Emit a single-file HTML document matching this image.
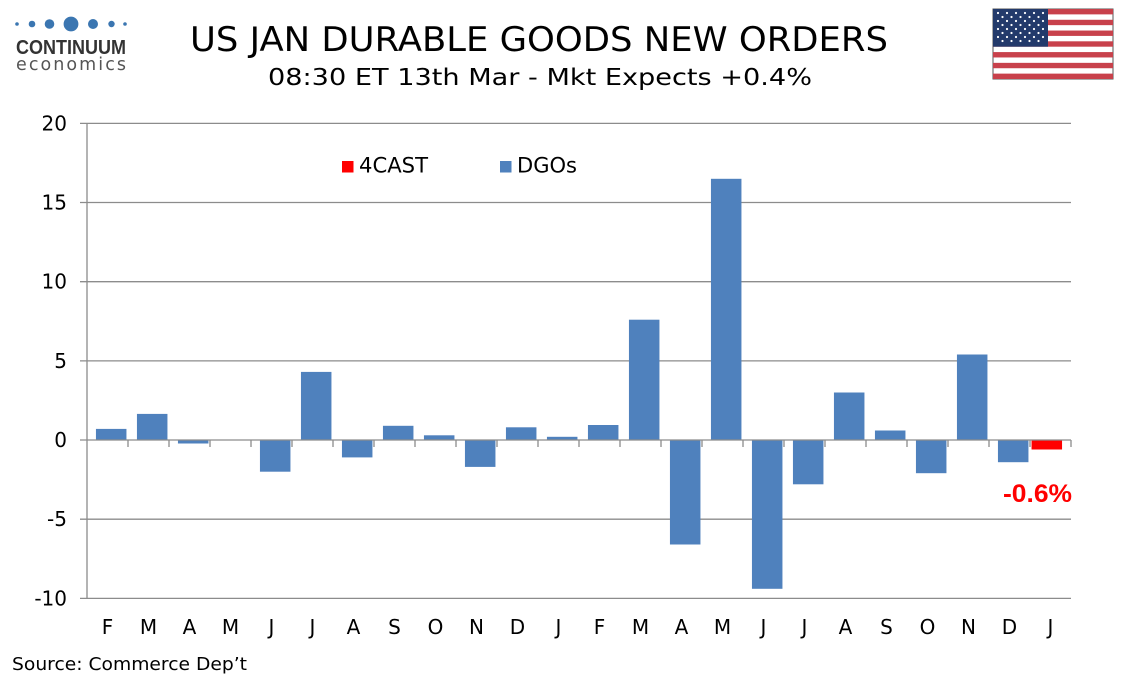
<!DOCTYPE html>
<html><head><meta charset="utf-8"><style>
html,body{margin:0;padding:0;background:#fff;}
svg{display:block;}
</style></head><body>
<svg width="1134" height="680" viewBox="0 0 1134 680" xmlns="http://www.w3.org/2000/svg">
<rect width="1134" height="680" fill="#fff"/>
<!-- logo -->
<g fill="#3b76b1">
<circle cx="17" cy="24" r="1.8"/>
<circle cx="32" cy="24" r="3.3"/>
<circle cx="49.5" cy="24" r="4.8"/>
<circle cx="71" cy="24" r="7.4"/>
<circle cx="93" cy="24" r="5"/>
<circle cx="111.5" cy="24" r="3.2"/>
<circle cx="125" cy="24" r="1.8"/>
</g>
<text x="16" y="54" font-family="Liberation Sans, sans-serif" font-weight="bold" font-size="20.5" fill="#333" textLength="110" lengthAdjust="spacingAndGlyphs">CONTINUUM</text>
<text x="16" y="70" font-family="DejaVu Sans, sans-serif" font-size="17.5" fill="#555" textLength="110" lengthAdjust="spacing">economics</text>
<!-- title -->
<text x="190" y="51" font-family="DejaVu Sans, sans-serif" font-size="34" fill="#000" textLength="698" lengthAdjust="spacingAndGlyphs">US JAN DURABLE GOODS NEW ORDERS</text>
<text x="268" y="85" font-family="DejaVu Sans, sans-serif" font-size="23" fill="#000" textLength="544" lengthAdjust="spacingAndGlyphs">08:30 ET 13th Mar - Mkt Expects +0.4%</text>
<!-- flag -->
<g>
<rect x="993" y="9" width="120" height="70" fill="#fff" stroke="#555" stroke-width="1"/>
<g fill="#c8414b">
<rect x="993" y="9" width="120" height="5.38"/>
<rect x="993" y="19.77" width="120" height="5.38"/>
<rect x="993" y="30.54" width="120" height="5.38"/>
<rect x="993" y="41.31" width="120" height="5.38"/>
<rect x="993" y="52.08" width="120" height="5.38"/>
<rect x="993" y="62.85" width="120" height="5.38"/>
<rect x="993" y="73.62" width="120" height="5.38"/>
</g>
<rect x="993" y="9" width="55" height="37.7" fill="#233a6b"/>
<g fill="#fff">
<circle cx="998" cy="13" r="1.1"/><circle cx="1007" cy="13" r="1.1"/><circle cx="1016" cy="13" r="1.1"/><circle cx="1025" cy="13" r="1.1"/><circle cx="1034" cy="13" r="1.1"/><circle cx="1043" cy="13" r="1.1"/>
<circle cx="1002.5" cy="17" r="1.1"/><circle cx="1011.5" cy="17" r="1.1"/><circle cx="1020.5" cy="17" r="1.1"/><circle cx="1029.5" cy="17" r="1.1"/><circle cx="1038.5" cy="17" r="1.1"/>
<circle cx="998" cy="21" r="1.1"/><circle cx="1007" cy="21" r="1.1"/><circle cx="1016" cy="21" r="1.1"/><circle cx="1025" cy="21" r="1.1"/><circle cx="1034" cy="21" r="1.1"/><circle cx="1043" cy="21" r="1.1"/>
<circle cx="1002.5" cy="25" r="1.1"/><circle cx="1011.5" cy="25" r="1.1"/><circle cx="1020.5" cy="25" r="1.1"/><circle cx="1029.5" cy="25" r="1.1"/><circle cx="1038.5" cy="25" r="1.1"/>
<circle cx="998" cy="29" r="1.1"/><circle cx="1007" cy="29" r="1.1"/><circle cx="1016" cy="29" r="1.1"/><circle cx="1025" cy="29" r="1.1"/><circle cx="1034" cy="29" r="1.1"/><circle cx="1043" cy="29" r="1.1"/>
<circle cx="1002.5" cy="33" r="1.1"/><circle cx="1011.5" cy="33" r="1.1"/><circle cx="1020.5" cy="33" r="1.1"/><circle cx="1029.5" cy="33" r="1.1"/><circle cx="1038.5" cy="33" r="1.1"/>
<circle cx="998" cy="37" r="1.1"/><circle cx="1007" cy="37" r="1.1"/><circle cx="1016" cy="37" r="1.1"/><circle cx="1025" cy="37" r="1.1"/><circle cx="1034" cy="37" r="1.1"/><circle cx="1043" cy="37" r="1.1"/>
<circle cx="1002.5" cy="41" r="1.1"/><circle cx="1011.5" cy="41" r="1.1"/><circle cx="1020.5" cy="41" r="1.1"/><circle cx="1029.5" cy="41" r="1.1"/><circle cx="1038.5" cy="41" r="1.1"/>
</g>
</g>
<!-- gridlines -->
<g stroke="#8c8c8c" stroke-width="1.3">
<line x1="80" y1="123.4" x2="1071" y2="123.4"/>
<line x1="80" y1="202.5" x2="1071" y2="202.5"/>
<line x1="80" y1="281.7" x2="1071" y2="281.7"/>
<line x1="80" y1="360.9" x2="1071" y2="360.9"/>
<line x1="80" y1="519.2" x2="1071" y2="519.2"/>
<line x1="80" y1="598.4" x2="1071" y2="598.4"/>
</g>
<!-- y labels -->
<g font-family="DejaVu Sans, sans-serif" font-size="20" fill="#000" text-anchor="end">
<text x="67" y="130.5">20</text>
<text x="67" y="209.5">15</text>
<text x="67" y="288.7">10</text>
<text x="67" y="367.9">5</text>
<text x="67" y="447">0</text>
<text x="67" y="526.2">-5</text>
<text x="67" y="605.4">-10</text>
</g>
<!-- bars -->
<g fill="#4f81bd">
<rect x="95.95" y="428.9" width="30.5" height="11.1"/>
<rect x="136.95" y="413.9" width="30.5" height="26.1"/>
<rect x="177.95" y="440" width="30.5" height="3.5"/>
<rect x="259.95" y="440" width="30.5" height="31.7"/>
<rect x="300.95" y="371.9" width="30.5" height="68.1"/>
<rect x="341.95" y="440" width="30.5" height="17.4"/>
<rect x="382.95" y="425.8" width="30.5" height="14.2"/>
<rect x="423.95" y="435.3" width="30.5" height="4.7"/>
<rect x="464.95" y="440" width="30.5" height="26.9"/>
<rect x="505.95" y="427.3" width="30.5" height="12.7"/>
<rect x="546.95" y="436.8" width="30.5" height="3.2"/>
<rect x="587.95" y="425" width="30.5" height="15"/>
<rect x="628.95" y="319.7" width="30.5" height="120.3"/>
<rect x="669.95" y="440" width="30.5" height="104.5"/>
<rect x="710.95" y="178.8" width="30.5" height="261.2"/>
<rect x="751.95" y="440" width="30.5" height="148.8"/>
<rect x="792.95" y="440" width="30.5" height="44.3"/>
<rect x="833.95" y="392.5" width="30.5" height="47.5"/>
<rect x="874.95" y="430.5" width="30.5" height="9.5"/>
<rect x="915.95" y="440" width="30.5" height="33.2"/>
<rect x="956.95" y="354.5" width="30.5" height="85.5"/>
<rect x="997.95" y="440" width="30.5" height="22.2"/>
</g>
<rect x="1031.55" y="440" width="30.5" height="9.5" fill="#ff0000"/>
<!-- axes -->
<g stroke="#8c8c8c" stroke-width="1.3">
<line x1="87" y1="123.4" x2="87" y2="598.4"/>
<line x1="80" y1="440" x2="1071" y2="440"/>
<line x1="128" y1="440" x2="128" y2="447"/><line x1="169" y1="440" x2="169" y2="447"/><line x1="210" y1="440" x2="210" y2="447"/><line x1="251" y1="440" x2="251" y2="447"/><line x1="292" y1="440" x2="292" y2="447"/><line x1="333" y1="440" x2="333" y2="447"/><line x1="374" y1="440" x2="374" y2="447"/><line x1="415" y1="440" x2="415" y2="447"/><line x1="456" y1="440" x2="456" y2="447"/><line x1="497" y1="440" x2="497" y2="447"/><line x1="538" y1="440" x2="538" y2="447"/><line x1="579" y1="440" x2="579" y2="447"/><line x1="620" y1="440" x2="620" y2="447"/><line x1="661" y1="440" x2="661" y2="447"/><line x1="702" y1="440" x2="702" y2="447"/><line x1="743" y1="440" x2="743" y2="447"/><line x1="784" y1="440" x2="784" y2="447"/><line x1="825" y1="440" x2="825" y2="447"/><line x1="866" y1="440" x2="866" y2="447"/><line x1="907" y1="440" x2="907" y2="447"/><line x1="948" y1="440" x2="948" y2="447"/><line x1="989" y1="440" x2="989" y2="447"/><line x1="1030" y1="440" x2="1030" y2="447"/><line x1="1071" y1="440" x2="1071" y2="447"/>
</g>
<!-- x labels -->
<g font-family="DejaVu Sans, sans-serif" font-size="20" fill="#000" text-anchor="middle">
<text x="107.5" y="634">F</text><text x="148.5" y="634">M</text><text x="189.5" y="634">A</text><text x="230.5" y="634">M</text><text x="271.5" y="634">J</text><text x="312.5" y="634">J</text><text x="353.5" y="634">A</text><text x="394.5" y="634">S</text><text x="435.5" y="634">O</text><text x="476.5" y="634">N</text><text x="517.5" y="634">D</text><text x="558.5" y="634">J</text><text x="599.5" y="634">F</text><text x="640.5" y="634">M</text><text x="681.5" y="634">A</text><text x="722.5" y="634">M</text><text x="763.5" y="634">J</text><text x="804.5" y="634">J</text><text x="845.5" y="634">A</text><text x="886.5" y="634">S</text><text x="927.5" y="634">O</text><text x="968.5" y="634">N</text><text x="1009.5" y="634">D</text><text x="1050.5" y="634">J</text>
</g>
<!-- legend -->
<rect x="342" y="161" width="11.5" height="11.5" fill="#ff0000"/>
<text x="359" y="172.5" font-family="DejaVu Sans, sans-serif" font-size="21" fill="#000" textLength="69" lengthAdjust="spacingAndGlyphs">4CAST</text>
<rect x="500" y="161" width="11.5" height="11.5" fill="#4f81bd"/>
<text x="517" y="172.5" font-family="DejaVu Sans, sans-serif" font-size="21" fill="#000" textLength="60" lengthAdjust="spacingAndGlyphs">DGOs</text>
<!-- red label -->
<text x="1003" y="502" font-family="Liberation Sans, sans-serif" font-weight="bold" font-size="25" fill="#ff0000" textLength="69" lengthAdjust="spacingAndGlyphs">-0.6%</text>
<!-- source -->
<text x="12" y="670" font-family="DejaVu Sans, sans-serif" font-size="18" fill="#000" textLength="235" lengthAdjust="spacingAndGlyphs">Source: Commerce Dep’t</text>
</svg>
</body></html>
